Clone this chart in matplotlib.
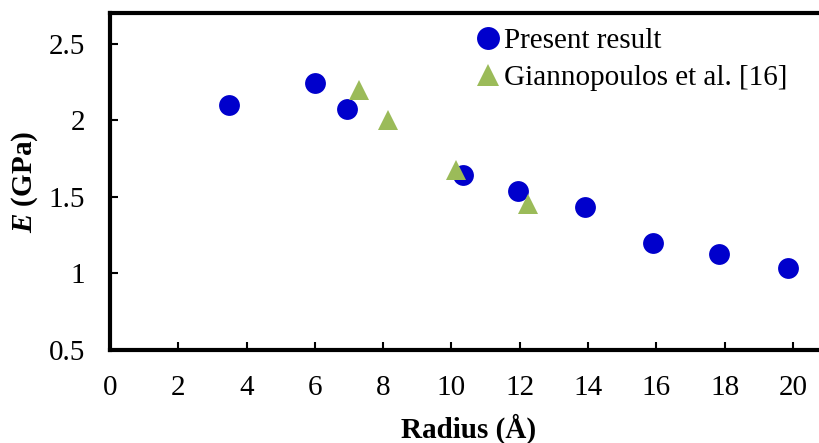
import matplotlib
matplotlib.use("Agg")
import matplotlib.pyplot as plt

# data
radius_present = [3.5, 6.0, 6.95, 10.35, 11.95, 13.9, 15.9, 17.85, 19.85]
E_present = [2.10, 2.245, 2.075, 1.64, 1.54, 1.435, 1.20, 1.125, 1.035]

radius_gian = [7.3, 8.13, 10.12, 12.25]
E_gian = [2.20, 2.00, 1.675, 1.455]

xticks = [0, 2, 4, 6, 8, 10, 12, 14, 16, 18, 20]
yticks = [0.5, 1, 1.5, 2, 2.5]

plt.rcParams['font.family'] = ['Liberation Serif', 'DejaVu Serif']
plt.rcParams['mathtext.fontset'] = 'custom'
plt.rcParams['mathtext.rm'] = 'Liberation Serif'
plt.rcParams['mathtext.bfit'] = 'Liberation Serif:bold:italic'

FS = 21
W, H = 820, 443
fig = plt.figure(figsize=(W / 100, H / 100), dpi=100)
# axes runs a little past the right edge, like the cropped original
ax = fig.add_axes([110 / W, 93 / H, 717 / W, 337 / H])

ax.plot(radius_present, E_present, 'o', color='#0000CC', markersize=15,
        markeredgewidth=0, label='Present result', clip_on=False)
ax.plot(radius_gian, E_gian, '^', color='#9BBB59', markersize=14,
        markeredgewidth=0, label='Giannopoulos et al. [16]', clip_on=False)

ax.set_xlim(0, 21)
ax.set_ylim(0.5, 2.7)
ax.set_xticks(xticks)
ax.set_yticks(yticks)
ax.set_xticklabels([str(t) for t in xticks])
ax.set_yticklabels([f"{t:g}" for t in yticks])

for s in ['left', 'bottom', 'top']:
    ax.spines[s].set_linewidth(3)
ax.spines['right'].set_visible(False)

ax.tick_params(axis='both', direction='in', length=6, width=1.5,
               labelsize=FS, pad=18)
ax.tick_params(axis='x', top=False)
ax.tick_params(axis='y', right=False)

ax.set_xlabel('Radius (Å)', fontsize=FS, fontweight='bold', labelpad=9)
ax.set_ylabel(r'$\boldsymbol{E}$ (GPa)', fontsize=FS, fontweight='bold',
              labelpad=6)

ax.legend(loc='upper left', bbox_to_anchor=(363 / 717, 1 - 12 / 337),
          frameon=False, fontsize=FS, handlelength=0.8, handletextpad=0.15,
          borderpad=0.1, labelspacing=0.35, borderaxespad=0, markerscale=1.1)

fig.savefig('out.png', dpi=100)
